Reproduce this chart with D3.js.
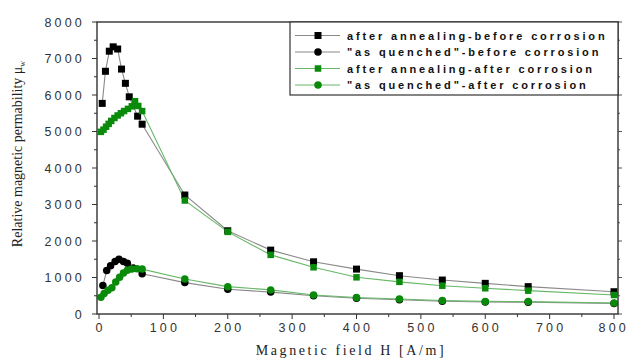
<!DOCTYPE html>
<html><head><meta charset="utf-8">
<script src="https://cdn.jsdelivr.net/npm/d3@7"></script>
<style>
body{margin:0;background:#fff;}
svg{display:block;}
</style></head>
<body>
<svg id="chart" width="629" height="363"></svg>
<script>
const seriesNames = [
  'after annealing-before corrosion',
  '"as quenched"-before corrosion',
  'after annealing-after corrosion',
  '"as quenched"-after corrosion'
];
const hAnnBefore = [5, 10, 16, 22, 29, 35, 41, 47, 60, 67, 133.3, 200, 266.7, 333.3, 400, 466.7, 533.3, 600, 666.7, 800];
const muAnnBefore = [5770, 6650, 7200, 7320, 7260, 6710, 6320, 5950, 5420, 5200, 3260, 2280, 1750, 1430, 1230, 1050, 930, 840, 750, 610];
const hAqBefore = [6, 12, 18, 25, 31, 38, 44, 53, 67, 133.3, 200, 266.7, 333.3, 400, 466.7, 533.3, 600, 666.7, 800];
const muAqBefore = [780, 1190, 1320, 1440, 1500, 1440, 1390, 1260, 1100, 860, 680, 600, 500, 430, 390, 350, 330, 320, 290];
const hAnnAfter = [3, 7, 11, 15, 19, 24, 29, 34, 39, 45, 51, 56, 61, 67, 133.3, 200, 266.7, 333.3, 400, 466.7, 533.3, 600, 666.7, 800];
const muAnnAfter = [4990, 5050, 5130, 5210, 5290, 5370, 5440, 5500, 5560, 5620, 5690, 5830, 5700, 5560, 3110, 2250, 1620, 1280, 1005, 880, 775, 705, 640, 520];
const hAqAfter = [3, 8, 14, 20, 26, 32, 38, 44, 51, 59, 67, 133.3, 200, 266.7, 333.3, 400, 466.7, 533.3, 600, 666.7, 800];
const muAqAfter = [460, 560, 650, 720, 880, 1010, 1120, 1200, 1230, 1240, 1230, 960, 750, 660, 520, 450, 410, 370, 345, 340, 300];
const xTicks = [0, 100, 200, 300, 400, 500, 600, 700, 800];
const yTicks = [0, 1000, 2000, 3000, 4000, 5000, 6000, 7000, 8000];

const series = [
  {name: seriesNames[0], h: hAnnBefore, mu: muAnnBefore, marker: 'square', fill: '#000', line: '#8a8a8a', size: 7},
  {name: seriesNames[1], h: hAqBefore, mu: muAqBefore, marker: 'circle', fill: '#000', line: '#8a8a8a', size: 7.5},
  {name: seriesNames[2], h: hAnnAfter, mu: muAnnAfter, marker: 'square', fill: '#0a8a0a', line: '#66b866', size: 6.5},
  {name: seriesNames[3], h: hAqAfter, mu: muAqAfter, marker: 'circle', fill: '#0a8a0a', line: '#66b866', size: 7.5}
];

const svg = d3.select('#chart');
const x = d3.scaleLinear().domain([0, 800]).range([99, 614]);
const y = d3.scaleLinear().domain([0, 8000]).range([314, 22]);
const fLeft = 97, fRight = 618, fTop = 22, fBottom = 314;

// ticks
const g = svg.append('g');
const xMinor = d3.range(0, 801, 50);
const yMinor = d3.range(0, 8001, 500);
g.selectAll('.xt').data(xMinor).join('line')
  .attr('x1', d => x(d)).attr('x2', d => x(d))
  .attr('y1', fBottom).attr('y2', d => fBottom + (d % 100 === 0 ? 5 : 3))
  .attr('stroke', '#333').attr('stroke-width', 1);
g.selectAll('.yt').data(yMinor).join('line')
  .attr('y1', d => y(d)).attr('y2', d => y(d))
  .attr('x1', fLeft).attr('x2', d => fLeft - (d % 1000 === 0 ? 5 : 3))
  .attr('stroke', '#333').attr('stroke-width', 1);
g.selectAll('.yr').data(yMinor).join('line')
  .attr('y1', d => y(d)).attr('y2', d => y(d))
  .attr('x1', fRight).attr('x2', d => fRight + (d % 1000 === 0 ? 4 : 2))
  .attr('stroke', '#555').attr('stroke-width', 1);

// tick labels
const lastX = xTicks[xTicks.length - 1];
g.selectAll('.xl').data(xTicks).join('text')
  .attr('x', d => d === lastX ? 629 : x(d) + 1.5).attr('y', 332)
  .attr('text-anchor', d => d === lastX ? 'end' : 'middle')
  .attr('font-family', 'Liberation Sans, Arial, sans-serif')
  .attr('font-size', 12.5).attr('letter-spacing', 3.2)
  .attr('fill', '#333')
  .text(d => d);
g.selectAll('.yl').data(yTicks).join('text')
  .attr('x', 85).attr('y', d => y(d) + 4.5)
  .attr('text-anchor', 'end')
  .attr('font-family', 'Liberation Sans, Arial, sans-serif')
  .attr('font-size', 12.5).attr('letter-spacing', 3.2)
  .attr('fill', '#333')
  .text(d => d);

// series
const lineGen = d3.line().x(d => x(d[0])).y(d => y(d[1]));
series.forEach(s => {
  const pts = s.h.map((h, i) => [h, s.mu[i]]);
  svg.append('path').datum(pts).attr('d', lineGen)
    .attr('fill', 'none').attr('stroke', s.line).attr('stroke-width', 1.1);
});
series.forEach(s => {
  const pts = s.h.map((h, i) => [h, s.mu[i]]);
  if (s.marker === 'square') {
    svg.append('g').selectAll('rect').data(pts).join('rect')
      .attr('x', d => x(d[0]) - s.size / 2).attr('y', d => y(d[1]) - s.size / 2)
      .attr('width', s.size).attr('height', s.size).attr('fill', s.fill);
  } else {
    svg.append('g').selectAll('circle').data(pts).join('circle')
      .attr('cx', d => x(d[0])).attr('cy', d => y(d[1]))
      .attr('r', s.size / 2).attr('fill', s.fill);
  }
});

// frame
svg.append('rect').attr('x', fLeft).attr('y', fTop).attr('width', fRight - fLeft).attr('height', fBottom - fTop)
  .attr('fill', 'none').attr('stroke', '#333').attr('stroke-width', 1.4);

// legend
const lg = svg.append('g');
lg.append('rect').attr('x', 290).attr('y', fTop).attr('width', fRight - 290).attr('height', 73)
  .attr('fill', '#fff').attr('stroke', '#333').attr('stroke-width', 1.2);
const rowsY = [35.5, 52, 68.5, 85];
series.forEach((s, i) => {
  const yy = rowsY[i];
  lg.append('line').attr('x1', 295).attr('x2', 340).attr('y1', yy).attr('y2', yy)
    .attr('stroke', s.line).attr('stroke-width', 1.2);
  if (s.marker === 'square') {
    lg.append('rect').attr('x', 318 - s.size / 2).attr('y', yy - s.size / 2)
      .attr('width', s.size).attr('height', s.size).attr('fill', s.fill);
  } else {
    lg.append('circle').attr('cx', 318).attr('cy', yy).attr('r', s.size / 2).attr('fill', s.fill);
  }
  lg.append('text').attr('x', 347).attr('y', yy + 4)
    .attr('font-family', 'Liberation Sans, Arial, sans-serif')
    .attr('font-size', 11).attr('font-weight', 'bold').attr('letter-spacing', 2.85)
    .attr('fill', '#111')
    .text(s.name);
});

// axis titles
svg.append('text').attr('x', 351).attr('y', 355).attr('text-anchor', 'middle')
  .attr('font-family', 'Liberation Serif, Times New Roman, serif')
  .attr('font-size', 14).attr('letter-spacing', 2.6).attr('fill', '#222')
  .text('Magnetic field H [A/m]');
const yt = svg.append('text').attr('transform', 'translate(22,154) rotate(-90)')
  .attr('text-anchor', 'middle')
  .attr('font-family', 'Liberation Serif, Times New Roman, serif')
  .attr('font-size', 14).attr('fill', '#222');
yt.append('tspan').text('Relative magnetic permability \u03bc');
yt.append('tspan').attr('font-size', 8).attr('dy', 3).text('w');
</script>
</body></html>
